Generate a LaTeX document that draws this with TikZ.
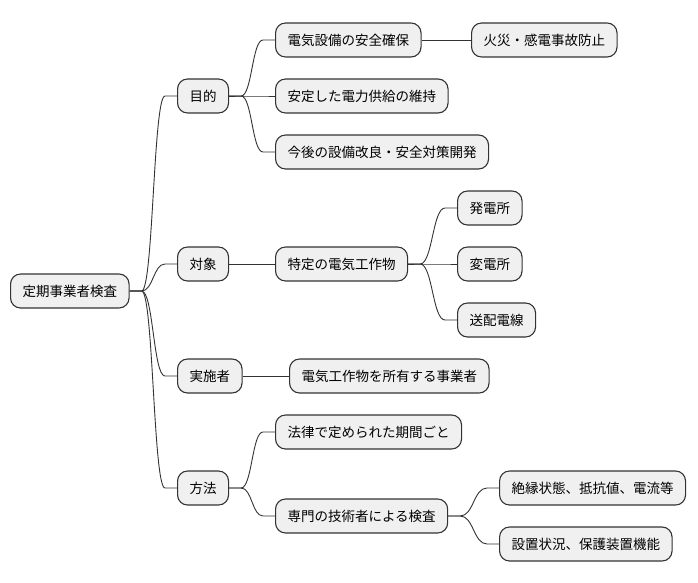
\documentclass[tikz,border=0pt]{standalone}
\usepackage{fontspec}
\setmainfont{Noto Sans CJK JP}
\usetikzlibrary{calc}
\definecolor{boxfill}{HTML}{F0F0F0}
\definecolor{ink}{HTML}{333333}
\tikzset{
  mm/.style={draw=ink, line width=1.1pt, fill=boxfill, rounded corners=10pt,
    minimum height=34pt, inner xsep=12pt, inner ysep=0pt, anchor=west,
    font=\fontsize{13.5}{16}\selectfont, text=black},
  link/.style={draw=ink, line width=0.9pt},
  curv/.style={to path={let \p1=(\tikztostart), \p2=(\tikztotarget) in
    (\p1) -- (\x1+12pt,\y1) .. controls ({(\x1+\x2)/2},\y1) and ({(\x1+\x2)/2},\y2) .. (\x2-12pt,\y2) -- (\p2)}}
}
\begin{document}
\begin{tikzpicture}[x=1pt,y=-1pt]
\useasboundingbox (0,0) rectangle (698,583);
\node[mm] (root) at (10,291) {定期事業者検査};
\node[mm] (mk) at (177,96) {目的};
\node[mm] (ts) at (177,264) {対象};
\node[mm] (js) at (177,376) {実施者};
\node[mm] (hh) at (177,488) {方法};
\node[mm] (a1) at (275,40) {電気設備の安全確保};
\node[mm] (a1a) at (471,40) {火災・感電事故防止};
\node[mm] (a2) at (275,96) {安定した電力供給の維持};
\node[mm] (a3) at (275,152) {今後の設備改良・安全対策開発};
\node[mm] (b1) at (275,264) {特定の電気工作物};
\node[mm] (b1a) at (457,208) {発電所};
\node[mm] (b1b) at (457,264) {変電所};
\node[mm] (b1c) at (457,320) {送配電線};
\node[mm] (c1) at (289,376) {電気工作物を所有する事業者};
\node[mm] (d1) at (275,432) {法律で定められた期間ごと};
\node[mm] (d2) at (275,516) {専門の技術者による検査};
\node[mm] (d2a) at (499,488) {絶縁状態、抵抗値、電流等};
\node[mm] (d2b) at (499,544) {設置状況、保護装置機能};
\begin{scope}[on background layer/.style={}]
\draw[link] (root.east) to[curv] (mk.west);
\draw[link] (root.east) to[curv] (ts.west);
\draw[link] (root.east) to[curv] (js.west);
\draw[link] (root.east) to[curv] (hh.west);
\draw[link] (mk.east) to[curv] (a1.west);
\draw[link] (mk.east) to[curv] (a2.west);
\draw[link] (mk.east) to[curv] (a3.west);
\draw[link] (a1.east) -- (a1a.west);
\draw[link] (ts.east) -- (b1.west);
\draw[link] (b1.east) to[curv] (b1a.west);
\draw[link] (b1.east) to[curv] (b1b.west);
\draw[link] (b1.east) to[curv] (b1c.west);
\draw[link] (js.east) -- (c1.west);
\draw[link] (hh.east) to[curv] (d1.west);
\draw[link] (hh.east) to[curv] (d2.west);
\draw[link] (d2.east) to[curv] (d2a.west);
\draw[link] (d2.east) to[curv] (d2b.west);
\end{scope}
\end{tikzpicture}
\end{document}
